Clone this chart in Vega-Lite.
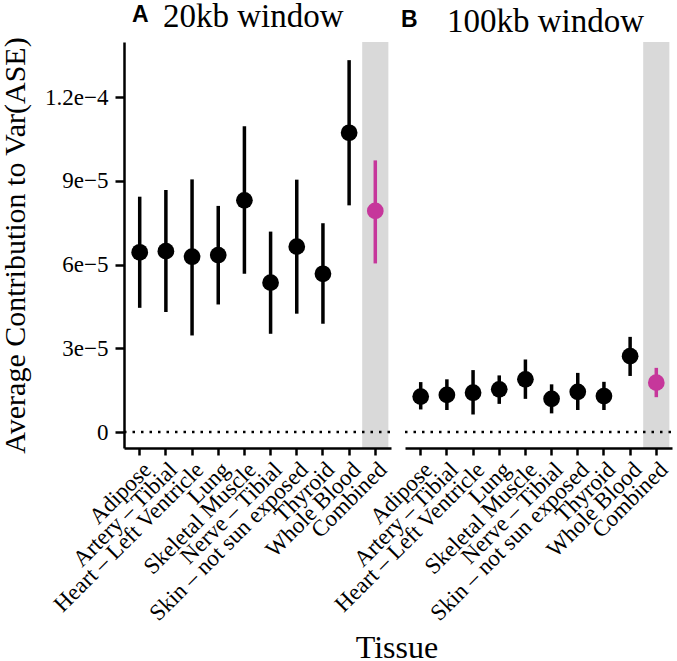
{
  "$schema": "https://vega.github.io/schema/vega-lite/v6.json",
  "background": "white",
  "padding": 0,
  "config": {
    "font": "Liberation Serif",
    "view": {"stroke": null},
    "axis": {
      "domainColor": "black", "domainWidth": 2.5, "tickColor": "black", "tickWidth": 2.5, "tickSize": 7,
      "labelFont": "Liberation Serif", "labelFontSize": 23, "labelColor": "black", "grid": false,
      "titleFont": "Liberation Serif", "titleFontWeight": "normal", "titleColor": "black"
    }
  },
  "data": {"values": [
    {"window": "20kb", "tissue": "Adipose", "grp": "tissue", "est": 6.44e-5, "lo": 4.45e-5, "hi": 8.43e-5},
    {"window": "20kb", "tissue": "Artery – Tibial", "grp": "tissue", "est": 6.48e-5, "lo": 4.30e-5, "hi": 8.67e-5},
    {"window": "20kb", "tissue": "Heart – Left Ventricle", "grp": "tissue", "est": 6.28e-5, "lo": 3.46e-5, "hi": 9.05e-5},
    {"window": "20kb", "tissue": "Lung", "grp": "tissue", "est": 6.34e-5, "lo": 4.57e-5, "hi": 8.10e-5},
    {"window": "20kb", "tissue": "Skeletal Muscle", "grp": "tissue", "est": 8.30e-5, "lo": 5.67e-5, "hi": 1.095e-4},
    {"window": "20kb", "tissue": "Nerve – Tibial", "grp": "tissue", "est": 5.35e-5, "lo": 3.52e-5, "hi": 7.18e-5},
    {"window": "20kb", "tissue": "Skin – not sun exposed", "grp": "tissue", "est": 6.64e-5, "lo": 4.24e-5, "hi": 9.04e-5},
    {"window": "20kb", "tissue": "Thyroid", "grp": "tissue", "est": 5.67e-5, "lo": 3.88e-5, "hi": 7.48e-5},
    {"window": "20kb", "tissue": "Whole Blood", "grp": "tissue", "est": 1.072e-4, "lo": 8.12e-5, "hi": 1.332e-4},
    {"window": "20kb", "tissue": "Combined", "grp": "combined", "est": 7.92e-5, "lo": 6.04e-5, "hi": 9.73e-5},
    {"window": "100kb", "tissue": "Adipose", "grp": "tissue", "est": 1.27e-5, "lo": 8.1e-6, "hi": 1.79e-5},
    {"window": "100kb", "tissue": "Artery – Tibial", "grp": "tissue", "est": 1.33e-5, "lo": 7.9e-6, "hi": 1.89e-5},
    {"window": "100kb", "tissue": "Heart – Left Ventricle", "grp": "tissue", "est": 1.41e-5, "lo": 6.3e-6, "hi": 2.22e-5},
    {"window": "100kb", "tissue": "Lung", "grp": "tissue", "est": 1.53e-5, "lo": 1.01e-5, "hi": 2.03e-5},
    {"window": "100kb", "tissue": "Skeletal Muscle", "grp": "tissue", "est": 1.89e-5, "lo": 1.19e-5, "hi": 2.60e-5},
    {"window": "100kb", "tissue": "Nerve – Tibial", "grp": "tissue", "est": 1.19e-5, "lo": 6.7e-6, "hi": 1.71e-5},
    {"window": "100kb", "tissue": "Skin – not sun exposed", "grp": "tissue", "est": 1.44e-5, "lo": 7.9e-6, "hi": 2.12e-5},
    {"window": "100kb", "tissue": "Thyroid", "grp": "tissue", "est": 1.29e-5, "lo": 7.9e-6, "hi": 1.80e-5},
    {"window": "100kb", "tissue": "Whole Blood", "grp": "tissue", "est": 2.72e-5, "lo": 2.01e-5, "hi": 3.41e-5},
    {"window": "100kb", "tissue": "Combined", "grp": "combined", "est": 1.77e-5, "lo": 1.25e-5, "hi": 2.30e-5}
  ]},
  "bounds": "flush",
  "spacing": 14,
  "title": {"text": "Tissue", "orient": "bottom", "anchor": "middle", "frame": "group", "dx": 273, "font": "Liberation Serif", "fontSize": 32, "fontWeight": "normal", "color": "black", "offset": 8},
  "hconcat": [
    {
      "width": 267, "height": 406,
      "title": {"text": "A", "subtitle": "20kb window", "anchor": "start", "frame": "group", "dx": 39, "offset": 0,
        "encoding": {"dx": {"value": 8}},
        "font": "Liberation Sans", "fontSize": 23, "fontWeight": "bold", "color": "black",
        "subtitleFont": "Liberation Serif", "subtitleFontSize": 33, "subtitleColor": "black", "subtitlePadding": -26},
      "transform": [{"filter": "datum.window === '20kb'"}],
      "encoding": {
        "x": {"field": "tissue", "type": "nominal", "title": null, "sort": null,
          "scale": {"paddingInner": 0, "paddingOuter": 0.1},
          "axis": {"labelAngle": -45, "labelPadding": 3, "labelLimit": 400}},
        "y": {"type": "quantitative", "scale": {"domain": [-5.7e-6, 1.397e-4], "nice": false},
          "title": "Average Contribution to Var(ASE)",
          "axis": {"values": [0, 3e-5, 6e-5, 9e-5, 1.2e-4], "titleFontSize": 30, "labelPadding": 7, "tickSize": 9, "titlePadding": 14,
            "labelExpr": "datum.value < 1e-6 ? '0' : datum.value < 4e-5 ? '3e−5' : datum.value < 7e-5 ? '6e−5' : datum.value < 1e-4 ? '9e−5' : '1.2e−4'"}}
      },
      "layer": [
        {"mark": {"type": "rect", "color": "#d9d9d9"},
          "encoding": {
            "y": {"value": 0},
            "y2": {"value": "height"},
            "opacity": {"condition": {"test": "datum.tissue === 'Combined'", "value": 1}, "value": 0}
          }},
        {"data": {"values": [{"ref": 0}]},
          "mark": {"type": "rule", "strokeDash": [2.5, 6], "strokeWidth": 2.5, "color": "black"},
          "encoding": {
            "x": {"value": 0},
            "x2": {"value": "width"},
            "y": {"field": "ref", "type": "quantitative"}
          }},
        {"mark": {"type": "rule", "strokeWidth": 3.5},
          "encoding": {
            "y": {"field": "lo", "type": "quantitative"},
            "y2": {"field": "hi"},
            "color": {"condition": {"test": "datum.grp === 'combined'", "value": "#c6379b"}, "value": "black"}
          }},
        {"mark": {"type": "point", "filled": true, "size": 280, "opacity": 1},
          "encoding": {
            "y": {"field": "est", "type": "quantitative"},
            "color": {"condition": {"test": "datum.grp === 'combined'", "value": "#c6379b"}, "value": "black"}
          }}
      ]
    },
    {
      "width": 267, "height": 406,
      "title": {"text": "B", "subtitle": "100kb window", "anchor": "start", "frame": "group", "dx": 42, "offset": 0,
        "encoding": {"dx": {"value": -4}},
        "font": "Liberation Sans", "fontSize": 23, "fontWeight": "bold", "color": "black",
        "subtitleFont": "Liberation Serif", "subtitleFontSize": 33, "subtitleColor": "black", "subtitlePadding": -26},
      "transform": [{"filter": "datum.window === '100kb'"}],
      "encoding": {
        "x": {"field": "tissue", "type": "nominal", "title": null, "sort": null,
          "scale": {"paddingInner": 0, "paddingOuter": 0.1},
          "axis": {"labelAngle": -45, "labelPadding": 3, "labelLimit": 400}},
        "y": {"type": "quantitative", "scale": {"domain": [-5.7e-6, 1.397e-4], "nice": false},
          "title": null,
          "axis": {"labels": false, "ticks": false, "domain": false}}
      },
      "layer": [
        {"mark": {"type": "rect", "color": "#d9d9d9"},
          "encoding": {
            "y": {"value": 0},
            "y2": {"value": "height"},
            "opacity": {"condition": {"test": "datum.tissue === 'Combined'", "value": 1}, "value": 0}
          }},
        {"data": {"values": [{"ref": 0}]},
          "mark": {"type": "rule", "strokeDash": [2.5, 6], "strokeWidth": 2.5, "color": "black"},
          "encoding": {
            "x": {"value": 0},
            "x2": {"value": "width"},
            "y": {"field": "ref", "type": "quantitative"}
          }},
        {"mark": {"type": "rule", "strokeWidth": 3.5},
          "encoding": {
            "y": {"field": "lo", "type": "quantitative"},
            "y2": {"field": "hi"},
            "color": {"condition": {"test": "datum.grp === 'combined'", "value": "#c6379b"}, "value": "black"}
          }},
        {"mark": {"type": "point", "filled": true, "size": 280, "opacity": 1},
          "encoding": {
            "y": {"field": "est", "type": "quantitative"},
            "color": {"condition": {"test": "datum.grp === 'combined'", "value": "#c6379b"}, "value": "black"}
          }}
      ]
    }
  ]
}
